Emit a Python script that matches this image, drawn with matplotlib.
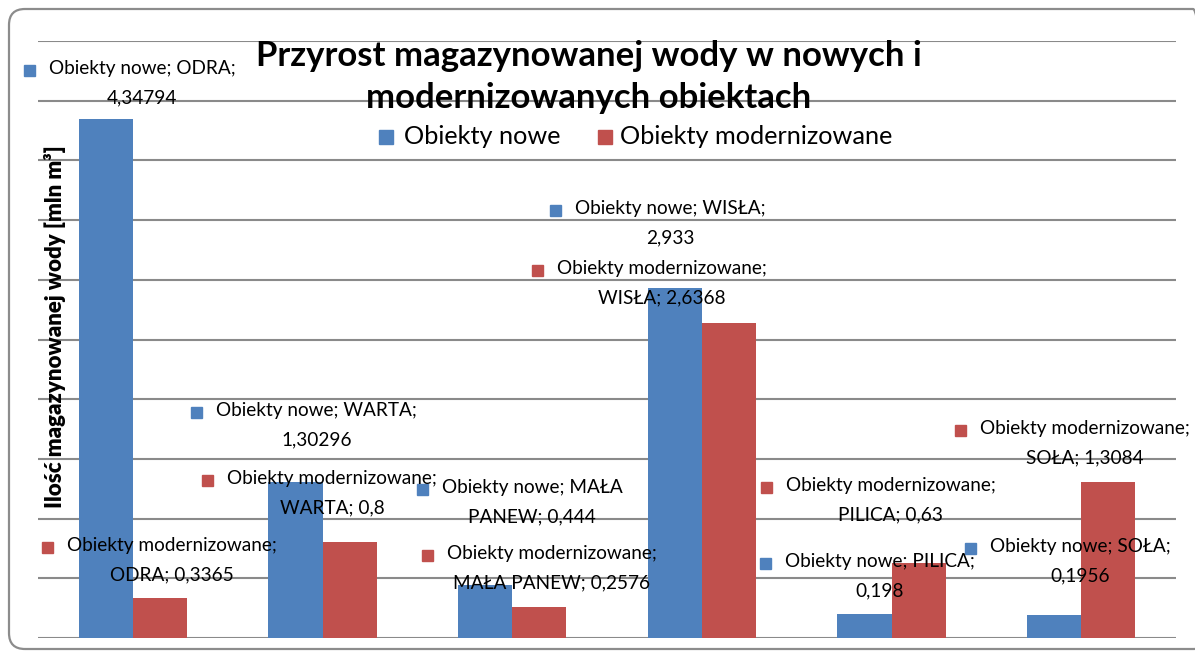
import matplotlib.pyplot as plt
import numpy as np
from matplotlib.patches import FancyBboxPatch, Rectangle

plt.rcParams['font.family'] = ['Lato', 'DejaVu Sans']

rivers = ['ODRA', 'WARTA', 'MAŁA PANEW', 'WISŁA', 'PILICA', 'SOŁA']
nowe = [4.34794, 1.30296, 0.444, 2.933, 0.198, 0.1956]
modern = [0.3365, 0.8, 0.2576, 2.6368, 0.63, 1.3084]
nowe_txt = ['4,34794', '1,30296', '0,444', '2,933', '0,198', '0,1956']
modern_txt = ['0,3365', '0,8', '0,2576', '2,6368', '0,63', '1,3084']

blue = '#4F81BD'
red = '#C0504D'
W, H = 1195, 658

fig = plt.figure(figsize=(W / 100, H / 100), dpi=100)

# rounded chart border (runs off the right edge like the original)
border = FancyBboxPatch((0.09, 0.09), 12.0, 6.40,
                        boxstyle='round,pad=0,rounding_size=0.16',
                        transform=fig.dpi_scale_trans, fill=False,
                        edgecolor='#8c8c8c', linewidth=1.6)
fig.patches.append(border)

ax = fig.add_axes([38 / W, (H - 638) / H, (1176 - 38) / W, (638 - 41) / H])
x = np.arange(len(rivers))
bw = 0.285
ax.bar(x - bw / 2, nowe, bw, color=blue, zorder=2)
ax.bar(x + bw / 2, modern, bw, color=red, zorder=2)

ax.set_xlim(-0.5, len(rivers) - 0.5)
ax.set_ylim(0, 5)
ax.set_yticks(np.arange(0, 5.01, 0.5))
ax.yaxis.grid(True, color='#8a8a8a', linewidth=1.5, zorder=0)
ax.set_yticklabels([])
ax.set_xticks([])
ax.tick_params(axis='y', length=0)
for s in ax.spines.values():
    s.set_visible(False)
ax.set_facecolor('none')

fig.text(55 / W, 1 - 327 / H, 'Ilość magazynowanej wody [mln m³]', rotation=90,
         ha='center', va='center', fontsize=16, fontweight='heavy')

fig.text(589 / W, 1 - 77 / H, 'Przyrost magazynowanej wody w nowych i\nmodernizowanych obiektach',
         ha='center', va='center', fontsize=25, fontweight='bold', linespacing=1.38)

# legend
for (mx, tx, name, c) in [(386, 404, 'Obiekty nowe', blue), (605, 620, 'Obiekty modernizowane', red)]:
    fig.patches.append(Rectangle(((mx - 7) / W, 1 - 144 / H), 14 / W, 14 / H,
                                 transform=fig.transFigure, color=c))
    fig.text(tx / W, 1 - 137 / H, name, ha='left', va='center', fontsize=18.2)

# data labels: (text start x, first line y) in pixels, as Excel placed them
lab_nowe = [(49, 70), (216, 412), (442, 489), (575, 210), (785, 563), (990, 548)]
lab_mod = [(67, 547), (227, 480), (447, 555), (557, 270), (786, 487), (980, 430)]
lines_nowe = ['Obiekty nowe; ODRA;\n', 'Obiekty nowe; WARTA;\n', 'Obiekty nowe; MAŁA\nPANEW; ',
              'Obiekty nowe; WISŁA;\n', 'Obiekty nowe; PILICA;\n', 'Obiekty nowe; SOŁA;\n']
lines_mod = ['Obiekty modernizowane;\nODRA; ', 'Obiekty modernizowane;\nWARTA; ',
             'Obiekty modernizowane;\nMAŁA PANEW; ', 'Obiekty modernizowane;\nWISŁA; ',
             'Obiekty modernizowane;\nPILICA; ', 'Obiekty modernizowane;\nSOŁA; ']

def label(pos, txt, c):
    px, py = pos
    fig.patches.append(Rectangle(((px - 25) / W, 1 - (py + 6) / H), 11 / W, 11 / H,
                                 transform=fig.transFigure, color=c, zorder=5))
    fig.text(px / W, 1 - (py - 10) / H, txt, ha='left', va='top', multialignment='center',
             fontsize=13.7, linespacing=1.9, zorder=6)

for i in range(len(rivers)):
    label(lab_nowe[i], lines_nowe[i] + nowe_txt[i], blue)
    label(lab_mod[i], lines_mod[i] + modern_txt[i], red)

fig.savefig('out.png', dpi=100)
